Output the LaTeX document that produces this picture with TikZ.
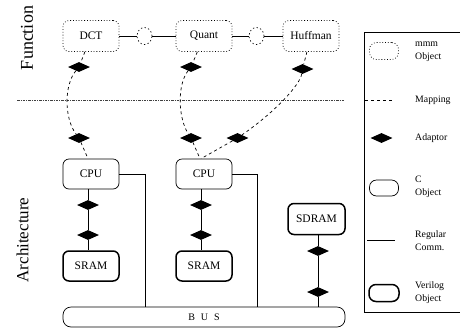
\documentclass[tikz,border=0pt]{standalone}
\usepackage{fontspec}
\setmainfont{Liberation Serif}
\usetikzlibrary{shapes.geometric,calc}

\begin{document}
\begin{tikzpicture}[x=1pt,y=-1pt,
  every node/.style={inner sep=0pt},
  boxtxt/.style={font=\fontsize{11.5}{13}\selectfont},
  fnobj/.style={draw, boxtxt, dash pattern=on 0.8pt off 2pt, line width=0.7pt,
    rounded corners=6pt, minimum width=56pt, minimum height=31pt},
  cobj/.style={draw, boxtxt, line width=0.7pt, rounded corners=6pt,
    minimum width=56pt, minimum height=30pt},
  vobj/.style={draw, boxtxt, line width=1.5pt, rounded corners=6pt,
    minimum width=56pt, minimum height=30pt},
  adaptor/.style={diamond, fill=black, aspect=2.2, minimum width=22pt, minimum height=10pt},
  port/.style={ellipse, draw, dash pattern=on 1.3pt off 2.4pt, line width=0.7pt,
    minimum width=15pt, minimum height=17pt},
  mapping/.style={dashed, line width=0.7pt},
  comm/.style={line width=0.7pt},
  legendtxt/.style={font=\fontsize{9.8}{13}\selectfont, align=left, anchor=west},
  sidetitle/.style={rotate=90}
]
\useasboundingbox (0,0) rectangle (460,330);

% side titles
\node[sidetitle, font=\fontsize{18}{20}\selectfont] (tfun) at (27,38) {Function};
\node[sidetitle, font=\fontsize{17}{20}\selectfont] (tarch) at (22.5,240) {Architecture};

% function level
\node[fnobj] (dct) at (91,36) {DCT};
\node[fnobj] (quant) at (204,36) {Quant};
\node[fnobj] (huff) at (311,36) {Huffman};
\node[port] (p1) at (144.5,36) {};
\node[port] (p2) at (256.5,36) {};
\draw[comm] (dct) -- (p1) -- (quant);
\draw[comm] (quant) -- (p2) -- (huff);

\node[adaptor] (fd1) at (79,67) {};
\node[adaptor] (fd2) at (191,67) {};
\node[adaptor] (fd3) at (302.5,69) {};

% separator between the two levels
\coordinate (sepL) at (17,100);
\coordinate (sepR) at (345,100);
\draw[black!75, line width=0.6pt, dash pattern=on 2.5pt off 1pt on 1pt off 1pt] (sepL) -- (sepR);

% architecture level
\node[cobj] (cpu1) at (91,174) {CPU};
\node[cobj] (cpu2) at (204,174) {CPU};
\node[vobj] (sram1) at (91,266) {SRAM};
\node[vobj] (sram2) at (204,266) {SRAM};
\node[vobj, minimum width=57pt, minimum height=31pt] (sdram) at (316.5,219) {SDRAM};
\node[draw, line width=0.7pt, rounded corners=8pt, minimum width=282pt, minimum height=20pt,
  font=\fontsize{10}{12}\selectfont] (bus) at (204,317) {\spaceskip=6pt B U S};

\node[adaptor] (ad1) at (79,138) {};
\node[adaptor] (ad2) at (191,138) {};
\node[adaptor] (ad3) at (237.5,138) {};

% mapping of functions onto processors
\draw[mapping] (dct) -- (fd1);
\draw[mapping] (fd1) .. controls (64,85) and (64,118) .. (ad1);
\draw[mapping] (ad1) -- ([xshift=-3pt]cpu1.north);
\draw[mapping] (quant) -- (fd2);
\draw[mapping] (fd2) .. controls (177,85) and (178,118) .. (ad2);
\draw[mapping] (ad2) -- ([xshift=-4pt]cpu2.north);
\draw[mapping] (huff) -- (fd3);
\draw[mapping] (fd3) .. controls (300,85) and (275,112) .. (ad3);
\draw[mapping] (ad3) -- ([xshift=-3pt]cpu2.north);

% processor to memory links
\node[adaptor] (m1a) at (88,205) {};
\node[adaptor] (m1b) at (88,235) {};
\node[adaptor] (m2a) at (201,205) {};
\node[adaptor] (m2b) at (201,235) {};
\draw[comm] ([xshift=-3pt]cpu1.south) -- (m1a) -- (m1b) -- ([xshift=-3pt]sram1.north);
\draw[comm] ([xshift=-3pt]cpu2.south) -- (m2a) -- (m2b) -- ([xshift=-3pt]sram2.north);

% bus connections
\draw[comm] (cpu1.east) -| (bus.north -| 145,0);
\draw[comm] (cpu2.east) -| (bus.north -| 257,0);
\node[adaptor] (s1) at (318,251) {};
\node[adaptor] (s2) at (318,292) {};
\draw[comm] ([xshift=1.5pt]sdram.south) -- (s1) -- (s2) -- (bus.north -| s2);

% legend
\coordinate (lgTR) at (460,32);
\coordinate (lgTL) at (364,32);
\coordinate (lgBL) at (364,312);
\coordinate (lgBR) at (460,312);
\draw[line width=0.7pt] (lgTR) -- (lgTL) -- (lgBL) -- (lgBR);

\node[draw, dash pattern=on 0.8pt off 2pt, line width=0.7pt, rounded corners=7pt,
  minimum width=29pt, minimum height=17pt] (lg1) at (384,51) {};
\node[legendtxt] (lg1t) at (415,51.5) {mmm\\Object};

\coordinate (lg2a) at (365,100);
\coordinate (lg2b) at (393,100);
\draw[mapping] (lg2a) -- (lg2b);
\node[legendtxt] (lg2t) at (415,100) {Mapping};

\node[adaptor] (lg3) at (381.5,138) {};
\node[legendtxt] (lg3t) at (415,138) {Adaptor};

\node[draw, line width=0.7pt, rounded corners=7pt, minimum width=29pt, minimum height=16pt]
  (lg4) at (384,188) {};
\node[legendtxt] (lg4t) at (415,186.5) {C\\Object};

\coordinate (lg5a) at (367,240);
\coordinate (lg5b) at (395,240);
\draw[comm] (lg5a) -- (lg5b);
\node[legendtxt] (lg5t) at (415,241) {Regular\\Comm.};

\node[draw, line width=1.5pt, rounded corners=7pt, minimum width=30pt, minimum height=17pt]
  (lg6) at (384,293) {};
\node[legendtxt] (lg6t) at (415,293) {Verilog\\Object};
\end{tikzpicture}
\end{document}
